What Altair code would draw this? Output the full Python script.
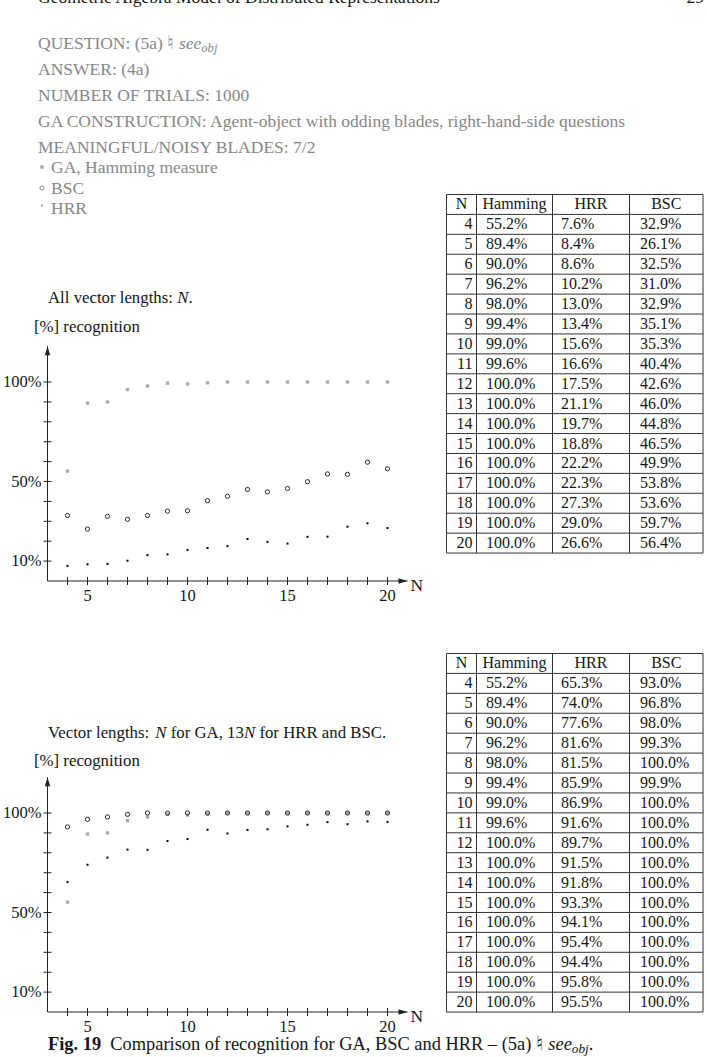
import altair as alt
import pandas as pd

N_VALUES = list(range(4, 21))
HAMMING = [55.2, 89.4, 90.0, 96.2, 98.0, 99.4, 99.0, 99.6, 100.0, 100.0, 100.0,
           100.0, 100.0, 100.0, 100.0, 100.0, 100.0]
HRR_EQUAL = [7.6, 8.4, 8.6, 10.2, 13.0, 13.4, 15.6, 16.6, 17.5, 21.1, 19.7, 18.8,
             22.2, 22.3, 27.3, 29.0, 26.6]
BSC_EQUAL = [32.9, 26.1, 32.5, 31.0, 32.9, 35.1, 35.3, 40.4, 42.6, 46.0, 44.8, 46.5,
             49.9, 53.8, 53.6, 59.7, 56.4]
HRR_13N = [65.3, 74.0, 77.6, 81.6, 81.5, 85.9, 86.9, 91.6, 89.7, 91.5, 91.8, 93.3,
           94.1, 95.4, 94.4, 95.8, 95.5]
BSC_13N = [93.0, 96.8, 98.0, 99.3, 100.0, 99.9, 100.0, 100.0, 100.0, 100.0, 100.0,
           100.0, 100.0, 100.0, 100.0, 100.0, 100.0]
TABLE_HEADERS = ["N", "Hamming", "HRR", "BSC"]
X_TICKS = list(range(4, 21))
X_TICK_LABELS = [5, 10, 15, 20]
Y_TICKS = list(range(10, 101, 10))
Y_TICK_LABELS = [10, 50, 100]

HEADER_LINES = [
    [("QUESTION: (5a) ", "n"), ("\u266e", "sym"), (" ", "n"), ("see", "i"), ("obj", "sub")],
    [("ANSWER: (4a)", "n")],
    [("NUMBER OF TRIALS: 1000", "n")],
    [("GA CONSTRUCTION: Agent-object with odding blades, right-hand-side questions", "n")],
    [("MEANINGFUL/NOISY BLADES: 7/2", "n")],
]
LEGEND_LABELS = ["GA, Hamming measure", "BSC", "HRR"]
TITLE_1 = [("All vector lengths: ", "n"), ("N", "i"), (".", "n")]
TITLE_2 = [("Vector lengths: ", "n"), ("N", "i"), (" for GA, 13", "n"), ("N", "i"),
           (" for HRR and BSC.", "n")]
Y_TITLE = "[%] recognition"
X_TITLE = "N"
CAPTION = [("Fig. 19", "b"), ("  Comparison of recognition for GA, BSC and HRR \u2013 (5a) ", "n"),
           ("\u266e", "sym"), (" ", "n"), ("see", "i"), ("obj", "sub"), (".", "n")]
RUNNING_HEAD = "Geometric Algebra Model of Distributed Representations"
PAGE_NO = "29"

# ---------------- layout / style ----------------
W, H = 707, 1057
FONT = "Liberation Serif"
GRAY_TEXT = "#878787"
GA_GRAY = "#a9a9a9"
AXIS = "#222222"
INK = "#151515"

X_DOMAIN = [3, 21]
Y_DOMAIN = [0, 118]
X_LEFT = 47.5
PX_PER_N = 20.0
PX_PER_PCT = 1.99
PLOT_ZERO_Y = [581.0, 1012.0]
TITLE_BASE = [302.5, 737.5]
YTITLE_BASE = [331.5, 765.5]

TABLE_TOP = [194.5, 653.5]
ROW_H = 19.92
COL_EDGES = [446.5, 476.5, 552.5, 629.5, 703.0]

HEADER_X = 38
HEADER_SIZE = 17.5
HEADER_BASE = [48.5, 74.5, 100.5, 126.5, 152.5]
LEGEND_BASE = [172.5, 193.5, 214.0]
LEGEND_SYM_X = 42
LEGEND_TEXT_X = 51
TITLE_SIZE = 16.8
CAPTION_SIZE = 18.4
CAPTION_BASE = 1050.0

CHAR_W = {' ': 250, ':': 278, '(': 333, ')': 333, ',': 250, '-': 333, '/': 278,
          '.': 250, '%': 833, '[': 333, ']': 333, '\u2013': 500, '\u266e': 380}
for _c in "0123456789":
    CHAR_W[_c] = 500
CHAR_W.update(dict(A=722, B=667, C=667, D=722, E=611, F=556, G=722, H=722, I=333, J=389,
                   K=722, L=611, M=889, N=722, O=722, P=556, Q=722, R=667, S=556, T=611,
                   U=722, V=722, W=944, X=722, Y=722, Z=611))
CHAR_W.update(dict(a=444, b=500, c=444, d=500, e=444, f=333, g=500, h=500, i=278, j=278,
                   k=500, l=278, m=778, n=500, o=500, p=500, q=500, r=333, s=389, t=278,
                   u=500, v=500, w=722, x=500, y=500, z=444))


def text_width(s, size, style):
    w = 0
    for ch in s:
        cw = CHAR_W.get(ch, 500)
        if style in ("i", "sub") and ch == "N":
            cw = 667
        if style == "b" and ch == "F":
            cw = 611
        w += cw
    return w / 1000.0 * size


records = []


def add_rich(parts, x, y, size, color, sub_drop=0.22):
    cx = x
    for text, style in parts:
        sz = size
        dy = 0
        if style == "sub":
            sz = size * 0.72
            dy = size * sub_drop
        elif style == "sym":
            sz = size * 1.1
        # SVG collapses leading whitespace: advance the pen instead
        stripped = text.lstrip(" ")
        cx += text_width(text[:len(text) - len(stripped)], sz, style)
        if stripped.strip():
            records.append(dict(text=stripped, x=cx, y=y + dy, size=sz, color=color,
                                fs="italic" if style in ("i", "sub") else "normal",
                                fw="bold" if style == "b" else "normal"))
        cx += text_width(stripped, sz, style)


add_rich([(RUNNING_HEAD, "n")], 38, 3, 17.5, INK)
for parts, yb in zip(HEADER_LINES, HEADER_BASE):
    add_rich(parts, HEADER_X, yb, HEADER_SIZE, GRAY_TEXT)
for lab, yb in zip(LEGEND_LABELS, LEGEND_BASE):
    add_rich([(lab, "n")], LEGEND_TEXT_X, yb, HEADER_SIZE, GRAY_TEXT)
add_rich(TITLE_1, 48, TITLE_BASE[0], TITLE_SIZE, INK)
add_rich(TITLE_2, 48, TITLE_BASE[1], TITLE_SIZE, INK)
for yb in YTITLE_BASE:
    add_rich([(Y_TITLE, "n")], 34, yb, TITLE_SIZE, INK)
add_rich(CAPTION, 48, CAPTION_BASE, CAPTION_SIZE, INK, sub_drop=0.16)

layers = []

# free text (layout positions, identity scales)
tdf = pd.DataFrame(records)
for (fs, fw), g in tdf.groupby(["fs", "fw"]):
    layers.append(
        alt.Chart(g).mark_text(font=FONT, align="left", baseline="alphabetic",
                               fontStyle=fs, fontWeight=fw).encode(
            x=alt.X("x:Q", scale=None, axis=None),
            y=alt.Y("y:Q", scale=None, axis=None),
            text="text:N",
            size=alt.Size("size:Q", scale=None, legend=None),
            color=alt.Color("color:N", scale=None, legend=None),
        )
    )
layers.append(
    alt.Chart(pd.DataFrame({"t": [PAGE_NO]})).mark_text(
        font=FONT, fontSize=17.5, align="right", baseline="alphabetic", color=INK
    ).encode(x=alt.value(704), y=alt.value(3), text="t:N")
)

# legend symbols in the header block
leg = pd.DataFrame({"x": [LEGEND_SYM_X] * 3, "y": [b - 5.5 for b in LEGEND_BASE]})
layers.append(alt.Chart(leg.iloc[[0]]).mark_square(size=12, color=GA_GRAY, opacity=1).encode(
    x=alt.X("x:Q", scale=None, axis=None), y=alt.Y("y:Q", scale=None, axis=None)))
layers.append(alt.Chart(leg.iloc[[1]]).mark_point(shape="circle", filled=False, size=18,
                                                  strokeWidth=1, color="#8a8a8a", opacity=1).encode(
    x=alt.X("x:Q", scale=None, axis=None), y=alt.Y("y:Q", scale=None, axis=None)))
layers.append(alt.Chart(leg.iloc[[2]].assign(y=leg.iloc[[2]]["y"] - 3)).mark_square(
    size=3, color="#777777", opacity=1).encode(
    x=alt.X("x:Q", scale=None, axis=None), y=alt.Y("y:Q", scale=None, axis=None)))


def plot_layers(y_zero, hrr, bsc):
    xs = alt.Scale(domain=X_DOMAIN, range=[X_LEFT, X_LEFT + PX_PER_N * (X_DOMAIN[1] - X_DOMAIN[0])],
                   nice=False, zero=False)
    ys = alt.Scale(domain=Y_DOMAIN, range=[y_zero, y_zero - PX_PER_PCT * (Y_DOMAIN[1] - Y_DOMAIN[0])],
                   nice=False, zero=False)

    def X(f):
        return alt.X(f, type="quantitative", scale=xs, axis=None)

    def Y(f):
        return alt.Y(f, type="quantitative", scale=ys, axis=None)

    out = []
    ax = pd.DataFrame({"x0": [X_DOMAIN[0]], "x1": [X_DOMAIN[1]], "y0": [Y_DOMAIN[0]], "y1": [Y_DOMAIN[1]]})
    out.append(alt.Chart(ax).mark_rule(color=AXIS, strokeWidth=1).encode(
        x=X("x0"), x2=alt.X2("x1"), y=Y("y0")))
    out.append(alt.Chart(ax).mark_rule(color=AXIS, strokeWidth=1).encode(
        x=X("x0"), y=Y("y0"), y2=alt.Y2("y1")))
    # arrow heads
    out.append(alt.Chart(ax).mark_point(shape="M0,0L-2,-0.6L-2,0.6Z", filled=True, size=81,
                                        color=AXIS, opacity=1, strokeWidth=0).encode(
        x=X("x1"), y=Y("y0")))
    out.append(alt.Chart(ax).mark_point(shape="M0,0L-0.6,2L0.6,2Z", filled=True, size=81,
                                        color=AXIS, opacity=1, strokeWidth=0).encode(
        x=X("x0"), y=Y("y1")))
    # ticks
    xt = pd.DataFrame({"v": X_TICKS, "z": 0})
    out.append(alt.Chart(xt).mark_tick(orient="vertical", size=8, thickness=1, color=AXIS,
                                       opacity=1).encode(x=X("v"), y=Y("z")))
    yt = pd.DataFrame({"v": Y_TICKS, "z": X_DOMAIN[0]})
    out.append(alt.Chart(yt).mark_tick(orient="horizontal", size=8, thickness=1, color=AXIS,
                                       opacity=1).encode(x=X("z"), y=Y("v")))
    # tick labels
    xl = pd.DataFrame({"v": X_TICK_LABELS, "z": 0, "lab": [str(v) for v in X_TICK_LABELS]})
    out.append(alt.Chart(xl).mark_text(font=FONT, fontSize=16.5, color=INK, dy=15,
                                       baseline="middle", align="center").encode(
        x=X("v"), y=Y("z"), text="lab:N"))
    yl = pd.DataFrame({"v": Y_TICK_LABELS, "z": X_DOMAIN[0],
                       "lab": [f"{v}%" for v in Y_TICK_LABELS]})
    out.append(alt.Chart(yl).mark_text(font=FONT, fontSize=16.5, color=INK, dx=-6,
                                       baseline="middle", align="right").encode(
        x=X("z"), y=Y("v"), text="lab:N"))
    nl = pd.DataFrame({"v": [X_DOMAIN[1]], "z": [0], "lab": [X_TITLE]})
    out.append(alt.Chart(nl).mark_text(font=FONT, fontSize=17.5, color=INK, dx=3, dy=5,
                                       baseline="middle", align="left").encode(
        x=X("v"), y=Y("z"), text="lab:N"))
    # data
    pts = pd.DataFrame({"N": N_VALUES, "GA": HAMMING, "HRR": hrr, "BSC": bsc})
    out.append(alt.Chart(pts).mark_square(size=11, color=GA_GRAY, opacity=1).encode(
        x=X("N"), y=Y("GA")))
    out.append(alt.Chart(pts).mark_point(shape="circle", filled=False, size=18, strokeWidth=1,
                                         color="#2a2a2a", opacity=1).encode(x=X("N"), y=Y("BSC")))
    out.append(alt.Chart(pts).mark_square(size=4, color="#000000", opacity=1).encode(
        x=X("N"), y=Y("HRR")))
    return out


def fmt(vals):
    return [f"{v:.1f}%" for v in vals]


def table_layers(top, hrr, bsc):
    n_rows = len(N_VALUES) + 1
    ys = alt.Scale(domain=[0, n_rows], range=[top, top + ROW_H * n_rows], nice=False, zero=False)

    def Y(f):
        return alt.Y(f, type="quantitative", scale=ys, axis=None)

    out = []
    hl = pd.DataFrame({"r": list(range(n_rows + 1))})
    out.append(alt.Chart(hl).mark_rule(color="#333333", strokeWidth=1).encode(
        x=alt.value(COL_EDGES[0]), x2=alt.value(COL_EDGES[-1]), y=Y("r")))
    vl = pd.DataFrame({"ex": COL_EDGES, "r0": 0, "r1": n_rows})
    out.append(alt.Chart(vl).mark_rule(color="#333333", strokeWidth=1).encode(
        x=alt.X("ex:Q", scale=None, axis=None), y=Y("r0"), y2=alt.Y2("r1")))
    centers = [(COL_EDGES[i] + COL_EDGES[i + 1]) / 2 for i in range(4)]
    hd = pd.DataFrame({"h": TABLE_HEADERS, "cx": centers, "rc": 0.5})
    out.append(alt.Chart(hd).mark_text(font=FONT, fontSize=16, color=INK, baseline="middle",
                                       align="center").encode(
        x=alt.X("cx:Q", scale=None, axis=None), y=Y("rc"), text="h:N"))
    cells = pd.DataFrame({"rc": [i + 1.5 for i in range(len(N_VALUES))],
                          "N": [str(n) for n in N_VALUES],
                          "Hamming": fmt(HAMMING), "HRR": fmt(hrr), "BSC": fmt(bsc)})
    col_pos = [("N", COL_EDGES[1] - 4, "right"), ("Hamming", COL_EDGES[1] + 9.5, "left"),
               ("HRR", COL_EDGES[2] + 8.5, "left"), ("BSC", COL_EDGES[3] + 10.5, "left")]
    for col, xpos, al in col_pos:
        out.append(alt.Chart(cells).mark_text(font=FONT, fontSize=16, color=INK,
                                              baseline="middle", align=al).encode(
            x=alt.value(xpos), y=Y("rc"), text=f"{col}:N"))
    return out


layers += plot_layers(PLOT_ZERO_Y[0], HRR_EQUAL, BSC_EQUAL)
layers += plot_layers(PLOT_ZERO_Y[1], HRR_13N, BSC_13N)
layers += table_layers(TABLE_TOP[0], HRR_EQUAL, BSC_EQUAL)
layers += table_layers(TABLE_TOP[1], HRR_13N, BSC_13N)

chart = alt.layer(*layers).resolve_scale(
    x="independent", y="independent", size="independent", color="independent"
).properties(
    width=W, height=H, padding=0, autosize=alt.AutoSizeParams(type="none"), background="white"
).configure_view(strokeWidth=0)

chart.save("out.html", embed_options={"renderer": "svg", "actions": False})
